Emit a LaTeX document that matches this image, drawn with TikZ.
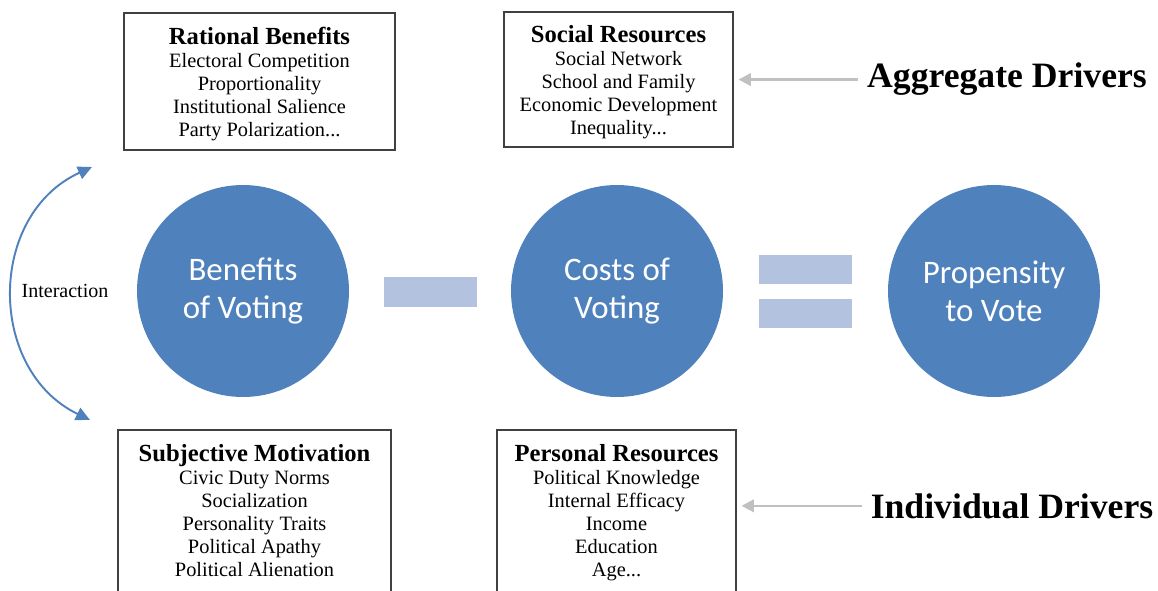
\documentclass[tikz,border=0pt]{standalone}
\usepackage{fontspec}
\setmainfont{Liberation Serif}
\newfontfamily\circfont{Carlito}
\usetikzlibrary{arrows.meta}
\definecolor{votblue}{RGB}{79,129,189}
\definecolor{votpale}{RGB}{179,194,222}
\definecolor{votgray}{RGB}{192,192,192}
\newcommand\boxhead[1]{{\fontsize{14}{15}\selectfont\bfseries #1}}
\def\votecircle(#1,#2,#3,#4){
  \node[vcirc] (#1) at (#2,#3) {#4};
}
\def\opbar(#1,#2,#3){
  \node[obar] (#1) at (#2,#3) {};
}
\begin{document}
\begin{tikzpicture}[
  vcirc/.style={circle, fill=votblue, minimum size=4.24cm, inner sep=0pt, align=center, text=white, font=\circfont\fontsize{18.7}{21.6}\selectfont},
  obar/.style={fill=votpale, minimum width=1.86cm, minimum height=0.59cm, inner sep=0pt},
  dbox/.style={draw=black!75, line width=0.6pt, align=center, inner sep=0pt, font=\fontsize{11.6}{13.1}\selectfont},
  dlabel/.style={font=\bfseries\fontsize{20.3}{24}\selectfont},
  garrow/.style={draw=votgray, line width=1.5pt, -{Triangle[length=7pt, width=7pt]}, shorten <=0.06cm, shorten >=0.1cm},
  iarrow/.style={votblue, line width=1.1pt, {Triangle[length=8pt, width=7.5pt]}-{Triangle[length=8pt, width=7.5pt]}}
]
\useasboundingbox (0,0) rectangle (23.16,11.8);
\clip (0,0) rectangle (23.16,11.8);
% the three terms of the sum
\votecircle(ben,4.86,5.98,Benefits\\of Voting)
\votecircle(cost,12.34,5.98,Costs of\\Voting)
\votecircle(prop,19.88,5.98,Propensity\\to Vote)
\opbar(minus,8.60,5.96)
\opbar(eqtop,16.10,6.41)
\opbar(eqbot,16.10,5.53)
% driver boxes (top titles get a strut to sit a bit lower)
\node[dbox, minimum width=5.42cm, minimum height=2.74cm] (ratben) at (5.19,10.17)
  {\boxhead{\rule{0pt}{12.6pt}Rational Benefits}\\Electoral Competition\\Proportionality\\Institutional Salience\\Party Polarization...};
\node[dbox, minimum width=4.58cm, minimum height=2.70cm] (socres) at (12.37,10.21)
  {\boxhead{\rule{0pt}{13pt}Social Resources}\\Social Network\\School and Family\\Economic Development\\Inequality...};
\node[dbox, minimum width=5.46cm, minimum height=3.24cm] (subjmot) at (5.09,1.58)
  {\boxhead{Subjective Motivation}\\Civic Duty Norms\\Socialization\\Personality Traits\\Political Apathy\\Political Alienation};
\node[dbox, minimum width=4.78cm, minimum height=3.32cm] (persres) at (12.33,1.54)
  {\boxhead{Personal Resources}\\Political Knowledge\\Internal Efficacy\\Income\\Education\\Age...};
% labels on the right
\node[dlabel, anchor=base] (aggdrv) at (20.14,10.04) {Aggregate Drivers};
\node[dlabel, anchor=base] (inddrv) at (20.24,1.44) {Individual Drivers};
\draw[garrow] (aggdrv.west) -- (aggdrv.west -| socres.east);
\draw[garrow] (inddrv.west) -- (inddrv.west -| persres.east);
% interaction between the two benefit sides
\node[font=\fontsize{11.4}{13}\selectfont] (interact) at (1.30,5.98) {Interaction};
\coordinate (itop) at (1.84,8.46);
\coordinate (ibot) at (1.80,3.40);
\draw[iarrow] (ibot) .. controls (-0.26,4.40) and (-0.26,7.50) .. (itop);
\end{tikzpicture}
\end{document}
